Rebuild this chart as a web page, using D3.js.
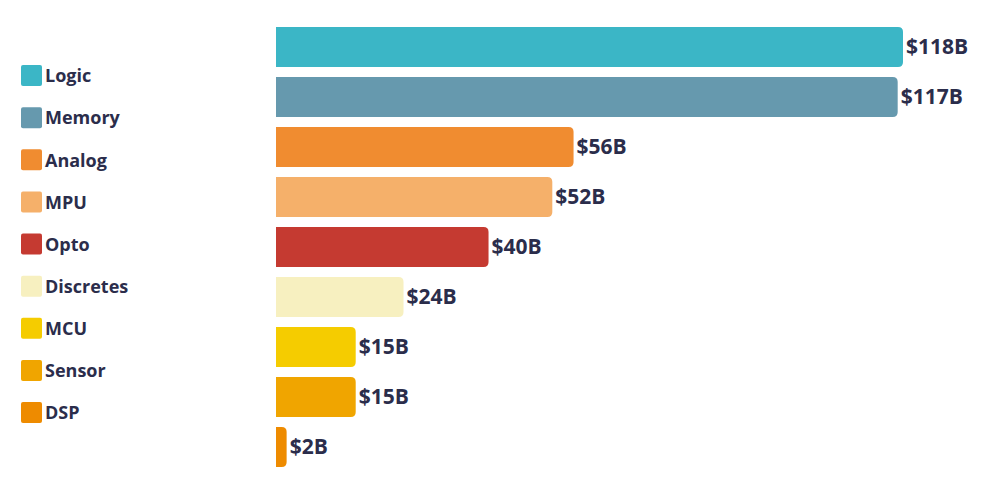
<!DOCTYPE html>
<html>
<head>
<meta charset="utf-8">
<script src="https://cdn.jsdelivr.net/npm/d3@7"></script>
<style>
  body { margin: 0; background: #fff; }
  svg text { font-family: "Open Sans", Lato, sans-serif; font-weight: 700; fill: #2b2d4b; }
</style>
</head>
<body>
<div id="chart"></div>
<script>
const categories = ['Logic', 'Memory', 'Analog', 'MPU', 'Opto', 'Discretes', 'MCU', 'Sensor', 'DSP']
const values = [118, 117, 56, 52, 40, 24, 15, 15, 2]
const colors = ['#3bb6c6', '#6699ae', '#f08c30', '#f5b06a', '#c53a31', '#f7f0c0', '#f5cc00', '#f0a500', '#ee8b00']

const width = 988, height = 498

const svg = d3.select('#chart').append('svg')
  .attr('width', width)
  .attr('height', height)

// bar scales
const x = d3.scaleLinear()
  .domain([0, 118])
  .range([276, 903])

const y = d3.scaleBand()
  .domain(categories)
  .range([22, 472])
  .paddingInner(0.2)
  .paddingOuter(0.1)

const r = 5

// bar with square left side and rounded right side
function barPath(d, i) {
  const x0 = x(0), x1 = x(values[i]), y0 = y(d), h = y.bandwidth()
  const rr = Math.min(r, (x1 - x0) / 2)
  return `M${x0},${y0}H${x1 - rr}Q${x1},${y0} ${x1},${y0 + rr}V${y0 + h - rr}Q${x1},${y0 + h} ${x1 - rr},${y0 + h}H${x0}Z`
}

svg.append('g')
  .selectAll('path')
  .data(categories)
  .enter().append('path')
  .attr('d', barPath)
  .attr('fill', (d, i) => colors[i])

svg.append('g')
  .selectAll('text')
  .data(categories)
  .enter().append('text')
  .attr('x', (d, i) => x(values[i]) + 3)
  .attr('y', d => y(d) + y.bandwidth() / 2)
  .attr('dy', '0.35em')
  .style('font-size', '21px')
  .text((d, i) => `$${values[i]}B`)

// legend
const legendY = d3.scalePoint()
  .domain(categories)
  .range([76, 413])

const legend = svg.append('g')
  .selectAll('g')
  .data(categories)
  .enter().append('g')
  .attr('transform', d => `translate(21, ${legendY(d)})`)

legend.append('rect')
  .attr('x', 0)
  .attr('y', -11)
  .attr('width', 21)
  .attr('height', 21)
  .attr('rx', 2)
  .attr('fill', (d, i) => colors[i])

legend.append('text')
  .attr('x', 24)
  .attr('y', 0)
  .attr('dy', '0.35em')
  .style('font-size', '18px')
  .text(d => d)
</script>
</body>
</html>
